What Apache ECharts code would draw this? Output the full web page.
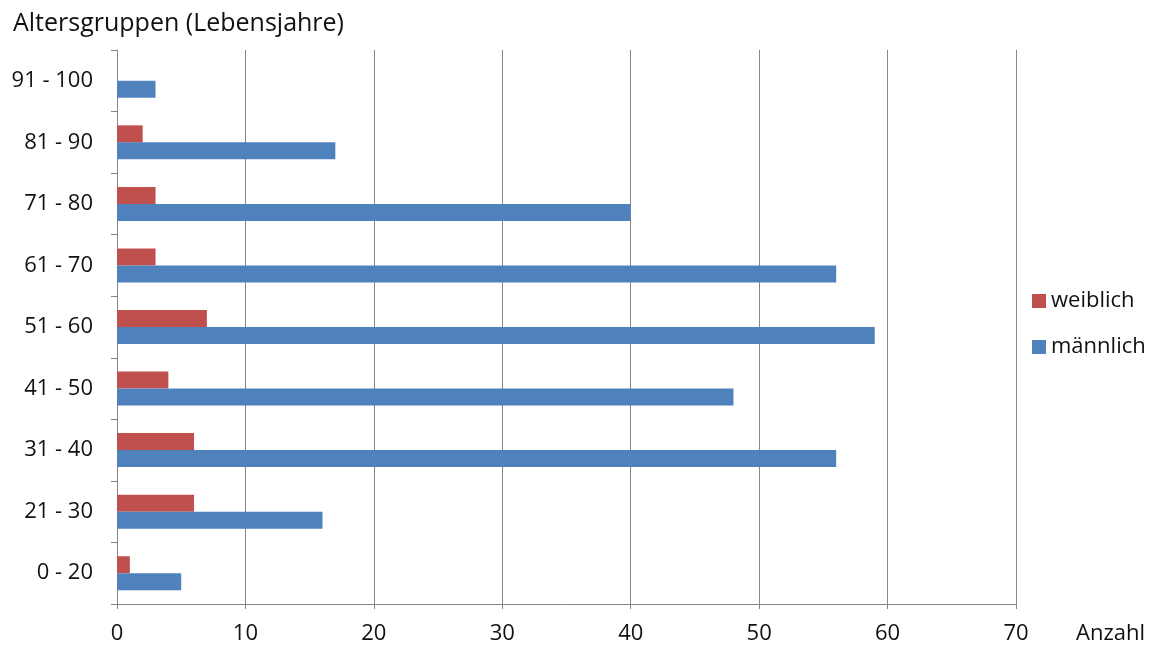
<!DOCTYPE html>
<html>
<head>
<meta charset="utf-8">
<script src="https://cdn.jsdelivr.net/npm/echarts@6/dist/echarts.min.js"></script>
<style>
  html, body { margin: 0; padding: 0; background: #fff; }
  #chart { width: 1152px; height: 648px; }
</style>
</head>
<body>
<div id="chart"></div>
<script>
// Altersgruppen, von unten nach oben
const categories = ['0 - 20', '21 - 30', '31 - 40', '41 - 50', '51 - 60', '61 - 70', '71 - 80', '81 - 90', '91 - 100'];
const weiblich = [1, 6, 6, 4, 7, 3, 3, 2, 0];
const maennlich = [5, 16, 56, 48, 59, 56, 40, 17, 3];
const xTicks = [0, 70, 10]; // min, max, interval

const font = '"Open Sans", sans-serif';
const gray = '#868686';

let chart = echarts.init(document.getElementById('chart'));

let option = {
		animation: false,
		textStyle: { fontFamily: font },
		title: [{
				text: 'Altersgruppen (Lebensjahre)',
				left: 8,
				top: 6,
				textStyle: { fontFamily: font, fontSize: 25, fontWeight: 'normal', color: '#111' }
		}, {
				text: 'Anzahl',
				left: 1071,
				top: 618,
				textStyle: { fontFamily: font, fontSize: 22, fontWeight: 'normal', color: '#111' }
		}],
		legend: {
				orient: 'vertical',
				left: 1027,
				top: 285,
				itemWidth: 14,
				itemHeight: 14,
				itemGap: 24,
				icon: 'rect',
				data: ['weiblich', 'männlich'],
				textStyle: { fontFamily: font, fontSize: 22, color: '#111' }
		},
		grid: {
				left: 117,
				right: 136,
				top: 50,
				bottom: 44
		},
		xAxis: {
				type: 'value',
				min: xTicks[0],
				max: xTicks[1],
				interval: xTicks[2],
				axisLine: { show: true, lineStyle: { color: gray } },
				axisTick: { show: true, length: 5, lineStyle: { color: gray } },
				splitLine: { show: true, lineStyle: { color: gray, width: 1 } },
				axisLabel: { fontFamily: font, fontSize: 22, color: '#111', margin: 19 }
		},
		yAxis: {
				type: 'category',
				data: categories,
				axisLine: { show: true, lineStyle: { color: gray } },
				axisTick: { show: true, length: 6, lineStyle: { color: gray } },
				axisLabel: { fontFamily: font, fontSize: 22, color: '#111', margin: 24 }
		},
		series: [{
				name: 'weiblich',
				type: 'bar',
				data: weiblich,
				barWidth: 17,
				barGap: '0%',
				itemStyle: { color: '#C0504D' }
		}, {
				name: 'männlich',
				type: 'bar',
				data: maennlich,
				barWidth: 17,
				barGap: '0%',
				itemStyle: { color: '#4F81BD' }
		}]
};

chart.setOption(option);
</script>
</body>
</html>
